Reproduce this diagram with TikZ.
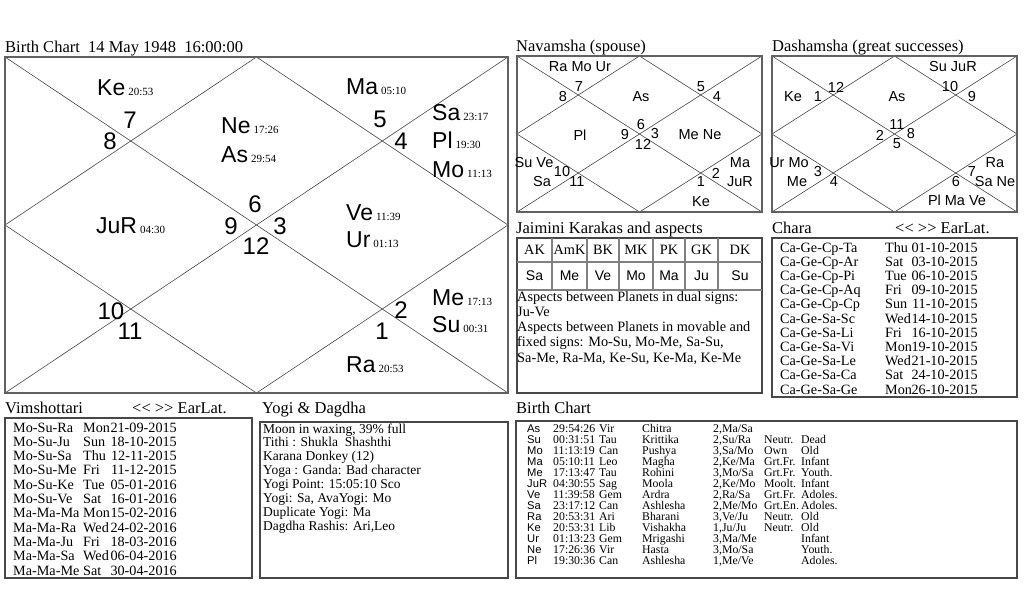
\documentclass[tikz,border=0pt]{standalone}
\usepackage{fontspec}
\setmainfont{Liberation Serif}
\setsansfont{Liberation Sans}
\newcommand\tmlab[1]{\hspace{3pt}{\fontsize{11}{11}\rmfamily #1}}
\tikzset{
 chartline/.style={draw=black!72, line width=0.6pt},
 heavyframe/.style={draw=black!62, line width=1.8pt},
 thinframe/.style={draw=black!72, line width=1.1pt},
 cellframe/.style={draw=black!50, line width=1.2pt},
 pl/.style={font=\fontsize{23}{23}\sffamily, inner sep=0pt, anchor=base west},
 hn/.style={font=\fontsize{24}{24}\sffamily, inner sep=0pt},
 sm/.style={font=\fontsize{14.5}{14.5}\sffamily, inner sep=0pt},
 ttl/.style={font=\fontsize{16.5}{16.5}\rmfamily, inner sep=0pt, anchor=base west},
 txt/.style={font=\fontsize{14.3}{14.3}\rmfamily, inner sep=0pt, anchor=base west},
 ytxt/.style={font=\fontsize{13.5}{13.5}\rmfamily, inner sep=0pt, anchor=base west},
 rowl/.style={font=\fontsize{14.2}{14.2}\rmfamily, inner sep=0pt, anchor=base west},
 rowr/.style={font=\fontsize{14.2}{14.2}\rmfamily, inner sep=0pt, anchor=base east},
 tiny/.style={font=\fontsize{11.8}{11.8}\rmfamily, inner sep=0pt, anchor=base west},
 tinysf/.style={font=\fontsize{11.2}{11.2}\sffamily, inner sep=0pt, anchor=base west},
 hdr/.style={font=\fontsize{14.3}{14.3}\rmfamily, inner sep=0pt},
 hdrsf/.style={font=\fontsize{14}{14}\sffamily, inner sep=0pt},
}
\begin{document}
\begin{tikzpicture}[x=1pt,y=-1pt]
\useasboundingbox[fill=white] (0,0) rectangle (1024,614);

% ---------------- Main chart ----------------
\node[ttl] (tmain) at (5,52) {Birth Chart\ \ 14 May 1948\ \ 16:00:00};
\coordinate (mTL) at (5,57); \coordinate (mTR) at (508,57);
\coordinate (mBL) at (5,393); \coordinate (mBR) at (508,393);
\coordinate (mT) at (256.5,57); \coordinate (mB) at (256.5,393);
\coordinate (mL) at (5,225); \coordinate (mR) at (508,225);
\draw[chartline] (mTL) -- (mBR) (mTR) -- (mBL);
\draw[chartline] (mT) -- (mR) -- (mB) -- (mL) -- cycle;
\draw[heavyframe] (mTL) rectangle (mBR);

\node[pl] (pKe) at (97,95) {Ke\tmlab{20:53}};
\node[pl] (pNe) at (221,133) {Ne\tmlab{17:26}};
\node[pl] (pAs) at (221,162) {As\tmlab{29:54}};
\node[pl] (pMa) at (346,94) {Ma\tmlab{05:10}};
\node[pl] (pSa) at (432,120) {Sa\tmlab{23:17}};
\node[pl] (pPl) at (432,148) {Pl\tmlab{19:30}};
\node[pl] (pMo) at (432,177) {Mo\tmlab{11:13}};
\node[pl] (pJu) at (96,233) {JuR\tmlab{04:30}};
\node[pl] (pVe) at (346,220) {Ve\tmlab{11:39}};
\node[pl] (pUr) at (346,247) {Ur\tmlab{01:13}};
\node[pl] (pMe) at (432,305) {Me\tmlab{17:13}};
\node[pl] (pSu) at (432,332) {Su\tmlab{00:31}};
\node[pl] (pRa) at (346,372) {Ra\tmlab{20:53}};

\node[hn] (h7) at (130,120) {7};
\node[hn] (h8) at (110,141) {8};
\node[hn] (h5) at (380,119) {5};
\node[hn] (h4) at (401,141) {4};
\node[hn] (h6) at (255,204) {6};
\node[hn] (h9) at (231,226) {9};
\node[hn] (h3) at (280,226) {3};
\node[hn] (h12) at (256,246) {12};
\node[hn] (h10) at (111,311) {10};
\node[hn] (h11) at (130,331) {11};
\node[hn] (h2) at (401,310) {2};
\node[hn] (h1) at (382,331) {1};

% ---------------- Navamsha ----------------
\node[ttl] (tnav) at (516,51) {Navamsha (spouse)};
\coordinate (nTL) at (517,56); \coordinate (nTR) at (762,56);
\coordinate (nBL) at (517,212); \coordinate (nBR) at (762,212);
\coordinate (nT) at (639.5,56); \coordinate (nB) at (639.5,212);
\coordinate (nL) at (517,134); \coordinate (nR) at (762,134);
\draw[chartline] (nTL) -- (nBR) (nTR) -- (nBL);
\draw[chartline] (nT) -- (nR) -- (nB) -- (nL) -- cycle;
\draw[heavyframe] (nTL) rectangle (nBR);
\foreach \n/\x/\y/\t in {a/580/67/Ra Mo Ur, b/579/87/7, c/563/97/8, d/641/97/As,
  e/701/87/5, f/717/97/4, g/580/135/Pl, h/641/125/6, i/625/135/9, j/655/134/3,
  k/643/144/12, l/700/135/Me Ne, m/534/163/Su Ve, n/562/172/10, o/542/182/Sa,
  p/577/182/11, q/701/182/1, r/716/173/2, s/740/163/Ma, t/740/182/JuR, u/701/202/Ke}
  \node[sm] (nav\n) at (\x,\y) {\t};

% ---------------- Dashamsha ----------------
\node[ttl] (tdas) at (772,51) {Dashamsha (great successes)};
\coordinate (dTL) at (772,56); \coordinate (dTR) at (1017,56);
\coordinate (dBL) at (772,212); \coordinate (dBR) at (1017,212);
\coordinate (dT) at (894.5,56); \coordinate (dB) at (894.5,212);
\coordinate (dL) at (772,134); \coordinate (dR) at (1017,134);
\draw[chartline] (dTL) -- (dBR) (dTR) -- (dBL);
\draw[chartline] (dT) -- (dR) -- (dB) -- (dL) -- cycle;
\draw[heavyframe] (dTL) rectangle (dBR);
\foreach \n/\x/\y/\t in {a/953/67/Su JuR, b/836/87/12, c/793/97/Ke, d/818/97/1,
  e/897/97/As, f/950/87/10, g/972/97/9, h/897/125/11, i/880/135/2, j/911/134/8,
  k/897/144/5, l/789/163/Ur Mo, m/818/172/3, n/797/182/Me, o/834/182/4,
  p/956/182/6, q/972/172/7, r/995/163/Ra, s/995/182/Sa Ne, t/957/200/Pl Ma Ve}
  \node[sm] (das\n) at (\x,\y) {\t};

% ---------------- Jaimini ----------------
\node[ttl] (tjai) at (516,233) {Jaimini Karakas and aspects};
\draw[thinframe] (517,238) rectangle (762,393);
\draw[cellframe] (517,262) -- (762,262) (517,290) -- (762,290);
\foreach \x in {552,587,619,653,685,718} \draw[cellframe] (\x,238) -- (\x,290);
\foreach \n/\x/\a/\b in {1/534.5/AK/Sa, 2/569.5/AmK/Me, 3/603/BK/Ve, 4/636/MK/Mo,
  5/669/PK/Ma, 6/701.5/GK/Ju, 7/740/DK/Su} {
  \node[hdr] (jk\n) at (\x,250) {\a};
  \node[hdrsf] (jp\n) at (\x,276) {\b};
}
\node[txt] (ja1) at (517,301) {Aspects between Planets in dual signs:};
\node[txt] (ja2) at (517,316.3) {Ju-Ve};
\node[txt] (ja3) at (517,331.6) {Aspects between Planets in movable and};
\node[txt] (ja4) at (517,346.9) {fixed signs: Mo-Su, Mo-Me, Sa-Su,};
\node[txt] (ja5) at (517,362.2) {Sa-Me, Ra-Ma, Ke-Su, Ke-Ma, Ke-Me};

% ---------------- Chara ----------------
\node[ttl] (tcha) at (772,233) {Chara};
\node[ttl] (tcha2) at (895,233) {<\kern0pt<\ >\kern0pt> EarLat.};
\draw[thinframe] (772,238) rectangle (1017,397);
\foreach \i/\a/\d/\dt in {0/Ca-Ge-Cp-Ta/Thu/01-10-2015, 1/Ca-Ge-Cp-Ar/Sat/03-10-2015,
  2/Ca-Ge-Cp-Pi/Tue/06-10-2015, 3/Ca-Ge-Cp-Aq/Fri/09-10-2015, 4/Ca-Ge-Cp-Cp/Sun/11-10-2015,
  5/Ca-Ge-Sa-Sc/Wed/14-10-2015, 6/Ca-Ge-Sa-Li/Fri/16-10-2015, 7/Ca-Ge-Sa-Vi/Mon/19-10-2015,
  8/Ca-Ge-Sa-Le/Wed/21-10-2015, 9/Ca-Ge-Sa-Ca/Sat/24-10-2015, 10/Ca-Ge-Sa-Ge/Mon/26-10-2015} {
  \node[rowl] (ca\i) at (780,252+14.2*\i) {\a};
  \node[rowl] (cw\i) at (885,252+14.2*\i) {\d};
  \node[rowr] (cd\i) at (978,252+14.2*\i) {\dt};
}

% ---------------- Vimshottari ----------------
\node[ttl] (tvim) at (5,413) {Vimshottari};
\node[ttl] (tvim2) at (132,413) {<\kern0pt<\ >\kern0pt> EarLat.};
\draw[thinframe] (5,418) rectangle (252,578);
\foreach \i/\a/\d/\dt in {0/Mo-Su-Ra/Mon/21-09-2015, 1/Mo-Su-Ju/Sun/18-10-2015,
  2/Mo-Su-Sa/Thu/12-11-2015, 3/Mo-Su-Me/Fri/11-12-2015, 4/Mo-Su-Ke/Tue/05-01-2016,
  5/Mo-Su-Ve/Sat/16-01-2016, 6/Ma-Ma-Ma/Mon/15-02-2016, 7/Ma-Ma-Ra/Wed/24-02-2016,
  8/Ma-Ma-Ju/Fri/18-03-2016, 9/Ma-Ma-Sa/Wed/06-04-2016, 10/Ma-Ma-Me/Sat/30-04-2016} {
  \node[rowl] (va\i) at (13,432+14.3*\i) {\a};
  \node[rowl] (vw\i) at (83,432+14.3*\i) {\d};
  \node[rowr] (vd\i) at (177,432+14.3*\i) {\dt};
}

% ---------------- Yogi & Dagdha ----------------
\node[ttl] (tyog) at (262,413) {Yogi \& Dagdha};
\draw[thinframe] (260,422) rectangle (508,578);
\node[ytxt] (y0) at (263,433) {Moon in waxing, 39\% full};
\node[ytxt] (y1) at (263,446.9) {Tithi : Shukla\ \ Shashthi};
\node[ytxt] (y2) at (263,460.8) {Karana Donkey (12)};
\node[ytxt] (y3) at (263,474.7) {Yoga : Ganda: Bad character};
\node[ytxt] (y4) at (263,488.6) {Yogi Point: 15:05:10 Sco};
\node[ytxt] (y5) at (263,502.5) {Yogi: Sa, AvaYogi: Mo};
\node[ytxt] (y6) at (263,516.4) {Duplicate Yogi: Ma};
\node[ytxt] (y7) at (263,530.3) {Dagdha Rashis: Ari,Leo};

% ---------------- Birth Chart table ----------------
\node[ttl] (tbc) at (516,413) {Birth Chart};
\draw[thinframe] (516,421) rectangle (1017,578);
\foreach \i/\p/\dg/\s/\nk/\pd/\dy/\ag in {
  0/As/29:54:26/Vir/Chitra/{2,Ma/Sa}/{}/{},
  1/Su/00:31:51/Tau/Krittika/{2,Su/Ra}/Neutr./Dead,
  2/Mo/11:13:19/Can/Pushya/{3,Sa/Mo}/Own/Old,
  3/Ma/05:10:11/Leo/Magha/{2,Ke/Ma}/Grt.Fr./Infant,
  4/Me/17:13:47/Tau/Rohini/{3,Mo/Sa}/Grt.Fr./Youth.,
  5/JuR/04:30:55/Sag/Moola/{2,Ke/Mo}/Moolt./Infant,
  6/Ve/11:39:58/Gem/Ardra/{2,Ra/Sa}/Grt.Fr./Adoles.,
  7/Sa/23:17:12/Can/Ashlesha/{2,Me/Mo}/Grt.En./Adoles.,
  8/Ra/20:53:31/Ari/Bharani/{3,Ve/Ju}/Neutr./Old,
  9/Ke/20:53:31/Lib/Vishakha/{1,Ju/Ju}/Neutr./Old,
  10/Ur/01:13:23/Gem/Mrigashi/{3,Ma/Me}/{}/Infant,
  11/Ne/17:26:36/Vir/Hasta/{3,Mo/Sa}/{}/Youth.,
  12/Pl/19:30:36/Can/Ashlesha/{1,Me/Ve}/{}/Adoles.} {
  \node[tinysf] (bp\i) at (527,432+11.08*\i) {\p};
  \node[tiny] (bd\i) at (553,432+11.08*\i) {\dg};
  \node[tiny] (bs\i) at (599,432+11.08*\i) {\s};
  \node[tiny] (bn\i) at (642,432+11.08*\i) {\nk};
  \node[tiny] (bq\i) at (713,432+11.08*\i) {\pd};
  \node[tiny] (by\i) at (764,432+11.08*\i) {\dy};
  \node[tiny] (ba\i) at (801,432+11.08*\i) {\ag};
}
\end{tikzpicture}
\end{document}
